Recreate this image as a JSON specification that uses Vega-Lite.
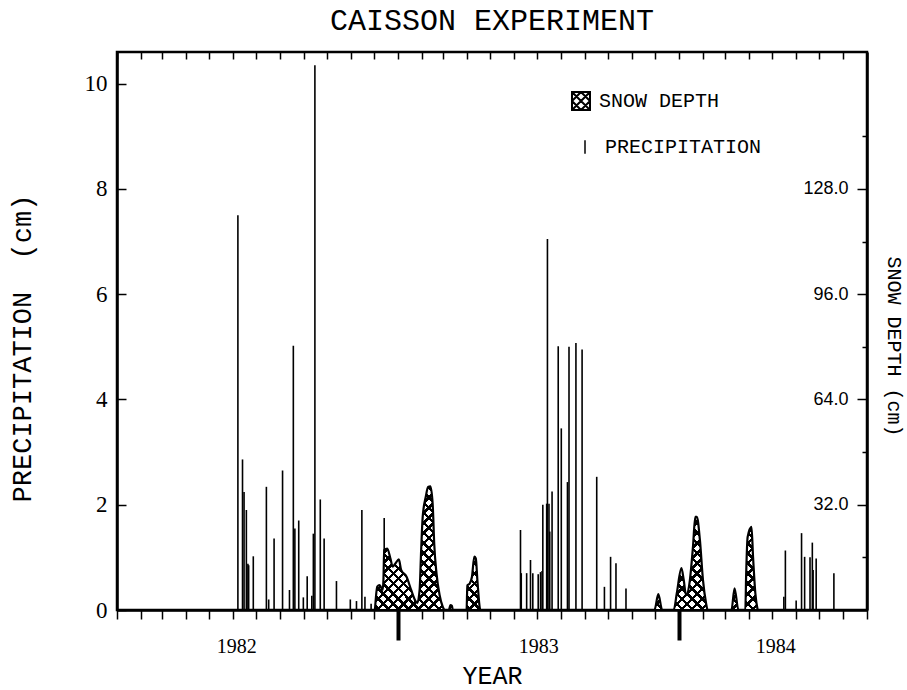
{
  "$schema": "https://vega.github.io/schema/vega-lite/v6.json",
  "width": 750,
  "height": 558,
  "autosize": {"type": "none"},
  "padding": {"left": 117, "top": 52, "right": 40, "bottom": 80},
  "background": "white",
  "title": {"text": "CAISSON EXPERIMENT", "font": "Liberation Mono", "fontSize": 30, "fontWeight": "normal", "color": "black", "anchor": "middle", "offset": -8, "baseline": "alphabetic"},
  "config": {
    "view": {"stroke": "black", "strokeWidth": 2.5},
    "axis": {"zindex": 1, "minExtent": 0, "domainColor": "black", "domainWidth": 2.5, "tickColor": "black", "labelColor": "black", "titleColor": "black", "grid": false, "labelOverlap": false, "labelFlush": false, "labelBound": false, "titleFontWeight": "normal", "labelFontWeight": "normal"},
    "legend": {"orient": "none", "title": null, "padding": 0, "offset": 0, "labelFont": "Liberation Mono", "labelFontSize": 20, "labelColor": "black", "labelLimit": 400, "symbolSize": 324, "symbolStrokeColor": "black", "symbolFillColor": "white"}
  },
  "datasets": {
    "precipitation": [
      {"date": "1982-06-07", "cm": 7.5},
      {"date": "1982-06-13", "cm": 2.86},
      {"date": "1982-06-15", "cm": 2.24},
      {"date": "1982-06-18", "cm": 1.9},
      {"date": "1982-06-20", "cm": 0.88},
      {"date": "1982-06-21", "cm": 0.85},
      {"date": "1982-06-27", "cm": 1.02},
      {"date": "1982-07-14", "cm": 2.34},
      {"date": "1982-07-17", "cm": 0.2},
      {"date": "1982-07-24", "cm": 1.36},
      {"date": "1982-08-04", "cm": 2.65},
      {"date": "1982-08-13", "cm": 0.38},
      {"date": "1982-08-18", "cm": 5.02},
      {"date": "1982-08-20", "cm": 1.55},
      {"date": "1982-08-25", "cm": 1.7},
      {"date": "1982-08-31", "cm": 0.24},
      {"date": "1982-09-05", "cm": 0.64},
      {"date": "1982-09-11", "cm": 0.27},
      {"date": "1982-09-13", "cm": 1.45},
      {"date": "1982-09-15", "cm": 10.35},
      {"date": "1982-09-22", "cm": 2.1},
      {"date": "1982-09-27", "cm": 1.36},
      {"date": "1982-10-13", "cm": 0.55},
      {"date": "1982-10-31", "cm": 0.2},
      {"date": "1982-11-08", "cm": 0.17},
      {"date": "1982-11-15", "cm": 1.9},
      {"date": "1982-11-19", "cm": 0.25},
      {"date": "1982-11-27", "cm": 0.12},
      {"date": "1982-12-14", "cm": 1.75},
      {"date": "1983-06-09", "cm": 1.52},
      {"date": "1983-06-10", "cm": 0.7},
      {"date": "1983-06-17", "cm": 0.7},
      {"date": "1983-06-22", "cm": 0.95},
      {"date": "1983-06-25", "cm": 0.7},
      {"date": "1983-07-02", "cm": 0.68},
      {"date": "1983-07-05", "cm": 0.72},
      {"date": "1983-07-07", "cm": 0.74},
      {"date": "1983-07-08", "cm": 2.0},
      {"date": "1983-07-13", "cm": 2.02},
      {"date": "1983-07-14", "cm": 7.05},
      {"date": "1983-07-16", "cm": 2.02},
      {"date": "1983-07-17", "cm": 1.49},
      {"date": "1983-07-20", "cm": 2.25},
      {"date": "1983-07-28", "cm": 5.01},
      {"date": "1983-08-01", "cm": 3.45},
      {"date": "1983-08-09", "cm": 2.43},
      {"date": "1983-08-11", "cm": 5.0},
      {"date": "1983-08-20", "cm": 5.07},
      {"date": "1983-08-28", "cm": 4.95},
      {"date": "1983-09-16", "cm": 2.53},
      {"date": "1983-09-26", "cm": 0.44},
      {"date": "1983-10-04", "cm": 1.01},
      {"date": "1983-10-11", "cm": 0.89},
      {"date": "1983-10-24", "cm": 0.41},
      {"date": "1984-05-16", "cm": 0.25},
      {"date": "1984-05-18", "cm": 1.13},
      {"date": "1984-06-01", "cm": 0.18},
      {"date": "1984-06-08", "cm": 1.46},
      {"date": "1984-06-12", "cm": 1.01},
      {"date": "1984-06-19", "cm": 1.0},
      {"date": "1984-06-22", "cm": 1.28},
      {"date": "1984-06-23", "cm": 0.76},
      {"date": "1984-06-27", "cm": 0.98},
      {"date": "1984-07-20", "cm": 0.7}
    ],
    "snow": [
      {"date": "1982-12-02", "snow": 0},
      {"date": "1982-12-05", "snow": 7.1},
      {"date": "1982-12-08", "snow": 7.6},
      {"date": "1982-12-12", "snow": 6.1},
      {"date": "1982-12-13", "snow": 9},
      {"date": "1982-12-14", "snow": 18.2},
      {"date": "1982-12-18", "snow": 18.7},
      {"date": "1982-12-22", "snow": 15.7},
      {"date": "1982-12-25", "snow": 13.2},
      {"date": "1982-12-29", "snow": 14.3},
      {"date": "1983-01-02", "snow": 15.4},
      {"date": "1983-01-05", "snow": 12.2},
      {"date": "1983-01-12", "snow": 10.1},
      {"date": "1983-01-18", "snow": 6.1},
      {"date": "1983-01-23", "snow": 3.0},
      {"date": "1983-01-26", "snow": 2.1},
      {"date": "1983-01-29", "snow": 6.1},
      {"date": "1983-01-31", "snow": 18.2},
      {"date": "1983-02-02", "snow": 28.3},
      {"date": "1983-02-06", "snow": 34.4},
      {"date": "1983-02-09", "snow": 37.4},
      {"date": "1983-02-12", "snow": 37.6},
      {"date": "1983-02-15", "snow": 32},
      {"date": "1983-02-17", "snow": 20},
      {"date": "1983-02-20", "snow": 11},
      {"date": "1983-02-24", "snow": 4.5},
      {"date": "1983-02-28", "snow": 1},
      {"date": "1983-03-03", "snow": 0},
      {"date": "1983-03-08", "snow": 0},
      {"date": "1983-03-10", "snow": 1.5},
      {"date": "1983-03-12", "snow": 1.3},
      {"date": "1983-03-13", "snow": 0},
      {"date": "1983-03-31", "snow": 0},
      {"date": "1983-04-01", "snow": 7.5},
      {"date": "1983-04-04", "snow": 8.0},
      {"date": "1983-04-07", "snow": 10.1},
      {"date": "1983-04-10", "snow": 16.2},
      {"date": "1983-04-12", "snow": 15.7},
      {"date": "1983-04-14", "snow": 9.1},
      {"date": "1983-04-18", "snow": 0},
      {"date": "1983-11-30", "snow": 0},
      {"date": "1983-12-05", "snow": 4.8},
      {"date": "1983-12-10", "snow": 0},
      {"date": "1983-12-25", "snow": 0},
      {"date": "1983-12-29", "snow": 5.1},
      {"date": "1984-01-04", "snow": 12.7},
      {"date": "1984-01-07", "snow": 9.1},
      {"date": "1984-01-10", "snow": 4.5},
      {"date": "1984-01-15", "snow": 9.1},
      {"date": "1984-01-19", "snow": 19.2},
      {"date": "1984-01-22", "snow": 28.3},
      {"date": "1984-01-24", "snow": 28.3},
      {"date": "1984-01-28", "snow": 21.3},
      {"date": "1984-02-01", "snow": 9.1},
      {"date": "1984-02-05", "snow": 2.1},
      {"date": "1984-02-07", "snow": 0},
      {"date": "1984-03-09", "snow": 0},
      {"date": "1984-03-13", "snow": 6.6},
      {"date": "1984-03-18", "snow": 0},
      {"date": "1984-03-27", "snow": 0},
      {"date": "1984-03-28", "snow": 10.1},
      {"date": "1984-03-30", "snow": 22.2},
      {"date": "1984-04-04", "snow": 25.3},
      {"date": "1984-04-06", "snow": 16.2},
      {"date": "1984-04-09", "snow": 5.1},
      {"date": "1984-04-12", "snow": 0}
    ]
  },
  "resolve": {"scale": {"y": "independent", "stroke": "independent"}, "axis": {"x": "independent", "y": "independent"}},
  "layer": [
    {
      "data": {"name": "precipitation"},
      "mark": {"type": "rule", "strokeWidth": 1.6},
      "encoding": {
        "x": {
          "field": "date", "type": "temporal",
          "scale": {"type": "utc", "nice": false, "domain": [{"year": 1982, "month": 1, "date": 1, "utc": true}, {"year": 1984, "month": 9, "date": 1, "utc": true}]},
          "axis": {
            "orient": "bottom", "zindex": 1,
            "values": [
              {"year": 1982, "month": 1, "date": 1, "utc": true}, {"year": 1982, "month": 2, "date": 1, "utc": true}, {"year": 1982, "month": 3, "date": 1, "utc": true}, {"year": 1982, "month": 4, "date": 1, "utc": true},
              {"year": 1982, "month": 5, "date": 1, "utc": true}, {"year": 1982, "month": 6, "date": 1, "utc": true}, {"year": 1982, "month": 7, "date": 1, "utc": true}, {"year": 1982, "month": 8, "date": 1, "utc": true},
              {"year": 1982, "month": 9, "date": 1, "utc": true}, {"year": 1982, "month": 10, "date": 1, "utc": true}, {"year": 1982, "month": 11, "date": 1, "utc": true}, {"year": 1982, "month": 12, "date": 1, "utc": true},
              {"year": 1983, "month": 1, "date": 1, "utc": true}, {"year": 1983, "month": 2, "date": 1, "utc": true}, {"year": 1983, "month": 3, "date": 1, "utc": true}, {"year": 1983, "month": 4, "date": 1, "utc": true},
              {"year": 1983, "month": 5, "date": 1, "utc": true}, {"year": 1983, "month": 6, "date": 1, "utc": true}, {"year": 1983, "month": 7, "date": 1, "utc": true}, {"year": 1983, "month": 8, "date": 1, "utc": true},
              {"year": 1983, "month": 9, "date": 1, "utc": true}, {"year": 1983, "month": 10, "date": 1, "utc": true}, {"year": 1983, "month": 11, "date": 1, "utc": true}, {"year": 1983, "month": 12, "date": 1, "utc": true},
              {"year": 1984, "month": 1, "date": 1, "utc": true}, {"year": 1984, "month": 2, "date": 1, "utc": true}, {"year": 1984, "month": 3, "date": 1, "utc": true}, {"year": 1984, "month": 4, "date": 1, "utc": true},
              {"year": 1984, "month": 5, "date": 1, "utc": true}, {"year": 1984, "month": 6, "date": 1, "utc": true}, {"year": 1984, "month": 7, "date": 1, "utc": true}, {"year": 1984, "month": 8, "date": 1, "utc": true},
              {"year": 1984, "month": 9, "date": 1, "utc": true},
              {"year": 1982, "month": 6, "date": 5, "utc": true}, {"year": 1983, "month": 7, "date": 2, "utc": true}, {"year": 1984, "month": 5, "date": 5, "utc": true}
            ],
            "labelExpr": "utcdate(datum.value) == 1 ? '' : utcFormat(datum.value, '%Y')",
            "labelFont": "Liberation Serif", "labelFontSize": 20, "labelPadding": 17, "labelBaseline": "top",
            "tickSize": {"condition": {"test": "utcmonth(datum.value) == 0 && utcdate(datum.value) == 1 && utcyear(datum.value) > 1982", "value": 30}, "value": 9},
            "tickWidth": {"condition": {"test": "utcmonth(datum.value) == 0 && utcdate(datum.value) == 1 && utcyear(datum.value) > 1982", "value": 4}, "value": 1.5},
            "tickOpacity": {"condition": {"test": "utcdate(datum.value) != 1", "value": 0}, "value": 1},
            "grid": true, "gridColor": "black", "gridWidth": 1.5, "gridDash": [7, 1000],
            "gridOpacity": {"condition": {"test": "utcdate(datum.value) != 1", "value": 0}, "value": 1},
            "title": "YEAR", "titleFont": "Liberation Mono", "titleFontSize": 25, "titleY": 73, "titleBaseline": "alphabetic"
          }
        },
        "y": {
          "field": "cm", "type": "quantitative",
          "scale": {"domain": [0, 10.6], "nice": false},
          "axis": {
            "orient": "left", "zindex": 1, "values": [0, 2, 4, 6, 8, 10],
            "tickSize": {"condition": {"test": "datum.value >= 0", "value": -9}, "value": -9},
            "tickWidth": 1.5,
            "labelPadding": 19, "labelFont": "Liberation Serif", "labelFontSize": 23,
            "title": "PRECIPITATION \u00a0(cm)", "titleFont": "Liberation Mono", "titleFontSize": 27,
            "titleX": -95, "titleY": 296, "titleAngle": -90, "titleAlign": "center", "titleBaseline": "middle"
          }
        },
        "y2": {"datum": 0},
        "stroke": {
          "datum": "PRECIPITATION", "type": "nominal",
          "scale": {"domain": ["PRECIPITATION"], "range": ["black"]},
          "legend": {"legendX": 458, "legendY": 85, "labelOffset": 10, "symbolType": "M0,-0.75L0,0.75", "symbolStrokeWidth": 1.5}
        }
      }
    },
    {
      "data": {"name": "snow"},
      "mark": {
        "type": "area", "interpolate": "monotone", "opacity": 1,
        "fill": {
          "gradient": "linear", "x1": 0, "y1": 0, "x2": 1.198, "y2": 0.3872,
          "stops": [
            {"offset": 0, "color": "#fff"},
            {"offset": 0.005, "color": "#fff"}, {"offset": 0.005, "color": "#000"}, {"offset": 0.012, "color": "#000"}, {"offset": 0.012, "color": "#fff"},
            {"offset": 0.025, "color": "#fff"}, {"offset": 0.025, "color": "#000"}, {"offset": 0.032, "color": "#000"}, {"offset": 0.032, "color": "#fff"},
            {"offset": 0.045, "color": "#fff"}, {"offset": 0.045, "color": "#000"}, {"offset": 0.052, "color": "#000"}, {"offset": 0.052, "color": "#fff"},
            {"offset": 0.065, "color": "#fff"}, {"offset": 0.065, "color": "#000"}, {"offset": 0.072, "color": "#000"}, {"offset": 0.072, "color": "#fff"},
            {"offset": 0.085, "color": "#fff"}, {"offset": 0.085, "color": "#000"}, {"offset": 0.092, "color": "#000"}, {"offset": 0.092, "color": "#fff"},
            {"offset": 0.105, "color": "#fff"}, {"offset": 0.105, "color": "#000"}, {"offset": 0.112, "color": "#000"}, {"offset": 0.112, "color": "#fff"},
            {"offset": 0.125, "color": "#fff"}, {"offset": 0.125, "color": "#000"}, {"offset": 0.132, "color": "#000"}, {"offset": 0.132, "color": "#fff"},
            {"offset": 0.145, "color": "#fff"}, {"offset": 0.145, "color": "#000"}, {"offset": 0.152, "color": "#000"}, {"offset": 0.152, "color": "#fff"},
            {"offset": 0.165, "color": "#fff"}, {"offset": 0.165, "color": "#000"}, {"offset": 0.172, "color": "#000"}, {"offset": 0.172, "color": "#fff"},
            {"offset": 0.185, "color": "#fff"}, {"offset": 0.185, "color": "#000"}, {"offset": 0.192, "color": "#000"}, {"offset": 0.192, "color": "#fff"},
            {"offset": 0.205, "color": "#fff"}, {"offset": 0.205, "color": "#000"}, {"offset": 0.212, "color": "#000"}, {"offset": 0.212, "color": "#fff"},
            {"offset": 0.225, "color": "#fff"}, {"offset": 0.225, "color": "#000"}, {"offset": 0.232, "color": "#000"}, {"offset": 0.232, "color": "#fff"},
            {"offset": 0.245, "color": "#fff"}, {"offset": 0.245, "color": "#000"}, {"offset": 0.252, "color": "#000"}, {"offset": 0.252, "color": "#fff"},
            {"offset": 0.265, "color": "#fff"}, {"offset": 0.265, "color": "#000"}, {"offset": 0.272, "color": "#000"}, {"offset": 0.272, "color": "#fff"},
            {"offset": 0.285, "color": "#fff"}, {"offset": 0.285, "color": "#000"}, {"offset": 0.292, "color": "#000"}, {"offset": 0.292, "color": "#fff"},
            {"offset": 0.305, "color": "#fff"}, {"offset": 0.305, "color": "#000"}, {"offset": 0.312, "color": "#000"}, {"offset": 0.312, "color": "#fff"},
            {"offset": 0.325, "color": "#fff"}, {"offset": 0.325, "color": "#000"}, {"offset": 0.332, "color": "#000"}, {"offset": 0.332, "color": "#fff"},
            {"offset": 0.345, "color": "#fff"}, {"offset": 0.345, "color": "#000"}, {"offset": 0.352, "color": "#000"}, {"offset": 0.352, "color": "#fff"},
            {"offset": 0.365, "color": "#fff"}, {"offset": 0.365, "color": "#000"}, {"offset": 0.372, "color": "#000"}, {"offset": 0.372, "color": "#fff"},
            {"offset": 0.385, "color": "#fff"}, {"offset": 0.385, "color": "#000"}, {"offset": 0.392, "color": "#000"}, {"offset": 0.392, "color": "#fff"},
            {"offset": 0.405, "color": "#fff"}, {"offset": 0.405, "color": "#000"}, {"offset": 0.412, "color": "#000"}, {"offset": 0.412, "color": "#fff"},
            {"offset": 0.425, "color": "#fff"}, {"offset": 0.425, "color": "#000"}, {"offset": 0.432, "color": "#000"}, {"offset": 0.432, "color": "#fff"},
            {"offset": 0.445, "color": "#fff"}, {"offset": 0.445, "color": "#000"}, {"offset": 0.452, "color": "#000"}, {"offset": 0.452, "color": "#fff"},
            {"offset": 0.465, "color": "#fff"}, {"offset": 0.465, "color": "#000"}, {"offset": 0.472, "color": "#000"}, {"offset": 0.472, "color": "#fff"},
            {"offset": 0.485, "color": "#fff"}, {"offset": 0.485, "color": "#000"}, {"offset": 0.492, "color": "#000"}, {"offset": 0.492, "color": "#fff"},
            {"offset": 0.505, "color": "#fff"}, {"offset": 0.505, "color": "#000"}, {"offset": 0.512, "color": "#000"}, {"offset": 0.512, "color": "#fff"},
            {"offset": 0.525, "color": "#fff"}, {"offset": 0.525, "color": "#000"}, {"offset": 0.532, "color": "#000"}, {"offset": 0.532, "color": "#fff"},
            {"offset": 0.545, "color": "#fff"}, {"offset": 0.545, "color": "#000"}, {"offset": 0.552, "color": "#000"}, {"offset": 0.552, "color": "#fff"},
            {"offset": 0.565, "color": "#fff"}, {"offset": 0.565, "color": "#000"}, {"offset": 0.572, "color": "#000"}, {"offset": 0.572, "color": "#fff"},
            {"offset": 0.585, "color": "#fff"}, {"offset": 0.585, "color": "#000"}, {"offset": 0.592, "color": "#000"}, {"offset": 0.592, "color": "#fff"},
            {"offset": 0.605, "color": "#fff"}, {"offset": 0.605, "color": "#000"}, {"offset": 0.612, "color": "#000"}, {"offset": 0.612, "color": "#fff"},
            {"offset": 0.625, "color": "#fff"}, {"offset": 0.625, "color": "#000"}, {"offset": 0.632, "color": "#000"}, {"offset": 0.632, "color": "#fff"},
            {"offset": 0.645, "color": "#fff"}, {"offset": 0.645, "color": "#000"}, {"offset": 0.652, "color": "#000"}, {"offset": 0.652, "color": "#fff"},
            {"offset": 0.665, "color": "#fff"}, {"offset": 0.665, "color": "#000"}, {"offset": 0.672, "color": "#000"}, {"offset": 0.672, "color": "#fff"},
            {"offset": 0.685, "color": "#fff"}, {"offset": 0.685, "color": "#000"}, {"offset": 0.692, "color": "#000"}, {"offset": 0.692, "color": "#fff"},
            {"offset": 0.705, "color": "#fff"}, {"offset": 0.705, "color": "#000"}, {"offset": 0.712, "color": "#000"}, {"offset": 0.712, "color": "#fff"},
            {"offset": 0.725, "color": "#fff"}, {"offset": 0.725, "color": "#000"}, {"offset": 0.732, "color": "#000"}, {"offset": 0.732, "color": "#fff"},
            {"offset": 0.745, "color": "#fff"}, {"offset": 0.745, "color": "#000"}, {"offset": 0.752, "color": "#000"}, {"offset": 0.752, "color": "#fff"},
            {"offset": 0.765, "color": "#fff"}, {"offset": 0.765, "color": "#000"}, {"offset": 0.772, "color": "#000"}, {"offset": 0.772, "color": "#fff"},
            {"offset": 0.785, "color": "#fff"}, {"offset": 0.785, "color": "#000"}, {"offset": 0.792, "color": "#000"}, {"offset": 0.792, "color": "#fff"},
            {"offset": 0.805, "color": "#fff"}, {"offset": 0.805, "color": "#000"}, {"offset": 0.812, "color": "#000"}, {"offset": 0.812, "color": "#fff"},
            {"offset": 0.825, "color": "#fff"}, {"offset": 0.825, "color": "#000"}, {"offset": 0.832, "color": "#000"}, {"offset": 0.832, "color": "#fff"},
            {"offset": 0.845, "color": "#fff"}, {"offset": 0.845, "color": "#000"}, {"offset": 0.852, "color": "#000"}, {"offset": 0.852, "color": "#fff"},
            {"offset": 0.865, "color": "#fff"}, {"offset": 0.865, "color": "#000"}, {"offset": 0.872, "color": "#000"}, {"offset": 0.872, "color": "#fff"},
            {"offset": 0.885, "color": "#fff"}, {"offset": 0.885, "color": "#000"}, {"offset": 0.892, "color": "#000"}, {"offset": 0.892, "color": "#fff"},
            {"offset": 0.905, "color": "#fff"}, {"offset": 0.905, "color": "#000"}, {"offset": 0.912, "color": "#000"}, {"offset": 0.912, "color": "#fff"},
            {"offset": 0.925, "color": "#fff"}, {"offset": 0.925, "color": "#000"}, {"offset": 0.932, "color": "#000"}, {"offset": 0.932, "color": "#fff"},
            {"offset": 0.945, "color": "#fff"}, {"offset": 0.945, "color": "#000"}, {"offset": 0.952, "color": "#000"}, {"offset": 0.952, "color": "#fff"},
            {"offset": 0.965, "color": "#fff"}, {"offset": 0.965, "color": "#000"}, {"offset": 0.972, "color": "#000"}, {"offset": 0.972, "color": "#fff"},
            {"offset": 0.985, "color": "#fff"}, {"offset": 0.985, "color": "#000"}, {"offset": 0.992, "color": "#000"}, {"offset": 0.992, "color": "#fff"},
            {"offset": 1, "color": "#fff"}
          ]
        }
      },
      "encoding": {
        "x": {
          "field": "date", "type": "temporal",
          "scale": {"type": "utc", "nice": false, "domain": [{"year": 1982, "month": 1, "date": 1, "utc": true}, {"year": 1984, "month": 9, "date": 1, "utc": true}]},
          "axis": null
        },
        "y": {"field": "snow", "type": "quantitative", "scale": {"domain": [0, 169.6], "nice": false}, "axis": null}
      }
    },
    {
      "data": {"name": "snow"},
      "mark": {
        "type": "area", "interpolate": "monotone", "opacity": 1,
        "fill": {
          "gradient": "linear", "x1": 0, "y1": 1, "x2": 1.198, "y2": 0.6128,
          "stops": [
            {"offset": 0, "color": "transparent"},
            {"offset": 0.005, "color": "transparent"}, {"offset": 0.005, "color": "#000"}, {"offset": 0.012, "color": "#000"}, {"offset": 0.012, "color": "transparent"},
            {"offset": 0.025, "color": "transparent"}, {"offset": 0.025, "color": "#000"}, {"offset": 0.032, "color": "#000"}, {"offset": 0.032, "color": "transparent"},
            {"offset": 0.045, "color": "transparent"}, {"offset": 0.045, "color": "#000"}, {"offset": 0.052, "color": "#000"}, {"offset": 0.052, "color": "transparent"},
            {"offset": 0.065, "color": "transparent"}, {"offset": 0.065, "color": "#000"}, {"offset": 0.072, "color": "#000"}, {"offset": 0.072, "color": "transparent"},
            {"offset": 0.085, "color": "transparent"}, {"offset": 0.085, "color": "#000"}, {"offset": 0.092, "color": "#000"}, {"offset": 0.092, "color": "transparent"},
            {"offset": 0.105, "color": "transparent"}, {"offset": 0.105, "color": "#000"}, {"offset": 0.112, "color": "#000"}, {"offset": 0.112, "color": "transparent"},
            {"offset": 0.125, "color": "transparent"}, {"offset": 0.125, "color": "#000"}, {"offset": 0.132, "color": "#000"}, {"offset": 0.132, "color": "transparent"},
            {"offset": 0.145, "color": "transparent"}, {"offset": 0.145, "color": "#000"}, {"offset": 0.152, "color": "#000"}, {"offset": 0.152, "color": "transparent"},
            {"offset": 0.165, "color": "transparent"}, {"offset": 0.165, "color": "#000"}, {"offset": 0.172, "color": "#000"}, {"offset": 0.172, "color": "transparent"},
            {"offset": 0.185, "color": "transparent"}, {"offset": 0.185, "color": "#000"}, {"offset": 0.192, "color": "#000"}, {"offset": 0.192, "color": "transparent"},
            {"offset": 0.205, "color": "transparent"}, {"offset": 0.205, "color": "#000"}, {"offset": 0.212, "color": "#000"}, {"offset": 0.212, "color": "transparent"},
            {"offset": 0.225, "color": "transparent"}, {"offset": 0.225, "color": "#000"}, {"offset": 0.232, "color": "#000"}, {"offset": 0.232, "color": "transparent"},
            {"offset": 0.245, "color": "transparent"}, {"offset": 0.245, "color": "#000"}, {"offset": 0.252, "color": "#000"}, {"offset": 0.252, "color": "transparent"},
            {"offset": 0.265, "color": "transparent"}, {"offset": 0.265, "color": "#000"}, {"offset": 0.272, "color": "#000"}, {"offset": 0.272, "color": "transparent"},
            {"offset": 0.285, "color": "transparent"}, {"offset": 0.285, "color": "#000"}, {"offset": 0.292, "color": "#000"}, {"offset": 0.292, "color": "transparent"},
            {"offset": 0.305, "color": "transparent"}, {"offset": 0.305, "color": "#000"}, {"offset": 0.312, "color": "#000"}, {"offset": 0.312, "color": "transparent"},
            {"offset": 0.325, "color": "transparent"}, {"offset": 0.325, "color": "#000"}, {"offset": 0.332, "color": "#000"}, {"offset": 0.332, "color": "transparent"},
            {"offset": 0.345, "color": "transparent"}, {"offset": 0.345, "color": "#000"}, {"offset": 0.352, "color": "#000"}, {"offset": 0.352, "color": "transparent"},
            {"offset": 0.365, "color": "transparent"}, {"offset": 0.365, "color": "#000"}, {"offset": 0.372, "color": "#000"}, {"offset": 0.372, "color": "transparent"},
            {"offset": 0.385, "color": "transparent"}, {"offset": 0.385, "color": "#000"}, {"offset": 0.392, "color": "#000"}, {"offset": 0.392, "color": "transparent"},
            {"offset": 0.405, "color": "transparent"}, {"offset": 0.405, "color": "#000"}, {"offset": 0.412, "color": "#000"}, {"offset": 0.412, "color": "transparent"},
            {"offset": 0.425, "color": "transparent"}, {"offset": 0.425, "color": "#000"}, {"offset": 0.432, "color": "#000"}, {"offset": 0.432, "color": "transparent"},
            {"offset": 0.445, "color": "transparent"}, {"offset": 0.445, "color": "#000"}, {"offset": 0.452, "color": "#000"}, {"offset": 0.452, "color": "transparent"},
            {"offset": 0.465, "color": "transparent"}, {"offset": 0.465, "color": "#000"}, {"offset": 0.472, "color": "#000"}, {"offset": 0.472, "color": "transparent"},
            {"offset": 0.485, "color": "transparent"}, {"offset": 0.485, "color": "#000"}, {"offset": 0.492, "color": "#000"}, {"offset": 0.492, "color": "transparent"},
            {"offset": 0.505, "color": "transparent"}, {"offset": 0.505, "color": "#000"}, {"offset": 0.512, "color": "#000"}, {"offset": 0.512, "color": "transparent"},
            {"offset": 0.525, "color": "transparent"}, {"offset": 0.525, "color": "#000"}, {"offset": 0.532, "color": "#000"}, {"offset": 0.532, "color": "transparent"},
            {"offset": 0.545, "color": "transparent"}, {"offset": 0.545, "color": "#000"}, {"offset": 0.552, "color": "#000"}, {"offset": 0.552, "color": "transparent"},
            {"offset": 0.565, "color": "transparent"}, {"offset": 0.565, "color": "#000"}, {"offset": 0.572, "color": "#000"}, {"offset": 0.572, "color": "transparent"},
            {"offset": 0.585, "color": "transparent"}, {"offset": 0.585, "color": "#000"}, {"offset": 0.592, "color": "#000"}, {"offset": 0.592, "color": "transparent"},
            {"offset": 0.605, "color": "transparent"}, {"offset": 0.605, "color": "#000"}, {"offset": 0.612, "color": "#000"}, {"offset": 0.612, "color": "transparent"},
            {"offset": 0.625, "color": "transparent"}, {"offset": 0.625, "color": "#000"}, {"offset": 0.632, "color": "#000"}, {"offset": 0.632, "color": "transparent"},
            {"offset": 0.645, "color": "transparent"}, {"offset": 0.645, "color": "#000"}, {"offset": 0.652, "color": "#000"}, {"offset": 0.652, "color": "transparent"},
            {"offset": 0.665, "color": "transparent"}, {"offset": 0.665, "color": "#000"}, {"offset": 0.672, "color": "#000"}, {"offset": 0.672, "color": "transparent"},
            {"offset": 0.685, "color": "transparent"}, {"offset": 0.685, "color": "#000"}, {"offset": 0.692, "color": "#000"}, {"offset": 0.692, "color": "transparent"},
            {"offset": 0.705, "color": "transparent"}, {"offset": 0.705, "color": "#000"}, {"offset": 0.712, "color": "#000"}, {"offset": 0.712, "color": "transparent"},
            {"offset": 0.725, "color": "transparent"}, {"offset": 0.725, "color": "#000"}, {"offset": 0.732, "color": "#000"}, {"offset": 0.732, "color": "transparent"},
            {"offset": 0.745, "color": "transparent"}, {"offset": 0.745, "color": "#000"}, {"offset": 0.752, "color": "#000"}, {"offset": 0.752, "color": "transparent"},
            {"offset": 0.765, "color": "transparent"}, {"offset": 0.765, "color": "#000"}, {"offset": 0.772, "color": "#000"}, {"offset": 0.772, "color": "transparent"},
            {"offset": 0.785, "color": "transparent"}, {"offset": 0.785, "color": "#000"}, {"offset": 0.792, "color": "#000"}, {"offset": 0.792, "color": "transparent"},
            {"offset": 0.805, "color": "transparent"}, {"offset": 0.805, "color": "#000"}, {"offset": 0.812, "color": "#000"}, {"offset": 0.812, "color": "transparent"},
            {"offset": 0.825, "color": "transparent"}, {"offset": 0.825, "color": "#000"}, {"offset": 0.832, "color": "#000"}, {"offset": 0.832, "color": "transparent"},
            {"offset": 0.845, "color": "transparent"}, {"offset": 0.845, "color": "#000"}, {"offset": 0.852, "color": "#000"}, {"offset": 0.852, "color": "transparent"},
            {"offset": 0.865, "color": "transparent"}, {"offset": 0.865, "color": "#000"}, {"offset": 0.872, "color": "#000"}, {"offset": 0.872, "color": "transparent"},
            {"offset": 0.885, "color": "transparent"}, {"offset": 0.885, "color": "#000"}, {"offset": 0.892, "color": "#000"}, {"offset": 0.892, "color": "transparent"},
            {"offset": 0.905, "color": "transparent"}, {"offset": 0.905, "color": "#000"}, {"offset": 0.912, "color": "#000"}, {"offset": 0.912, "color": "transparent"},
            {"offset": 0.925, "color": "transparent"}, {"offset": 0.925, "color": "#000"}, {"offset": 0.932, "color": "#000"}, {"offset": 0.932, "color": "transparent"},
            {"offset": 0.945, "color": "transparent"}, {"offset": 0.945, "color": "#000"}, {"offset": 0.952, "color": "#000"}, {"offset": 0.952, "color": "transparent"},
            {"offset": 0.965, "color": "transparent"}, {"offset": 0.965, "color": "#000"}, {"offset": 0.972, "color": "#000"}, {"offset": 0.972, "color": "transparent"},
            {"offset": 0.985, "color": "transparent"}, {"offset": 0.985, "color": "#000"}, {"offset": 0.992, "color": "#000"}, {"offset": 0.992, "color": "transparent"},
            {"offset": 1, "color": "transparent"}
          ]
        }
      },
      "encoding": {
        "x": {
          "field": "date", "type": "temporal",
          "scale": {"type": "utc", "nice": false, "domain": [{"year": 1982, "month": 1, "date": 1, "utc": true}, {"year": 1984, "month": 9, "date": 1, "utc": true}]},
          "axis": null
        },
        "y": {"field": "snow", "type": "quantitative", "scale": {"domain": [0, 169.6], "nice": false}, "axis": null}
      }
    },
    {
      "data": {"name": "snow"},
      "mark": {"type": "area", "interpolate": "monotone", "opacity": 1, "fill": "transparent", "strokeWidth": 2.2, "strokeJoin": "round"},
      "encoding": {
        "x": {
          "field": "date", "type": "temporal",
          "scale": {"type": "utc", "nice": false, "domain": [{"year": 1982, "month": 1, "date": 1, "utc": true}, {"year": 1984, "month": 9, "date": 1, "utc": true}]},
          "axis": null
        },
        "y": {
          "field": "snow", "type": "quantitative",
          "scale": {"domain": [0, 169.6], "nice": false},
          "axis": {
            "orient": "right", "zindex": 1, "values": [16, 32, 48, 64, 80, 96, 112, 128, 144],
            "tickSize": {"condition": {"test": "datum.value % 32 == 0", "value": -10}, "value": -5},
            "tickWidth": 1.5,
            "labelExpr": "datum.value % 32 == 0 ? format(datum.value, '.1f') : ''",
            "labelAlign": "right", "labelPadding": -9, "labelFont": "Liberation Sans", "labelFontSize": 18,
            "title": "SNOW DEPTH (cm)", "titleFont": "Liberation Mono", "titleFontSize": 20,
            "titleX": 26, "titleY": 294, "titleAngle": 90, "titleAlign": "center", "titleBaseline": "middle"
          }
        },
        "stroke": {
          "datum": "SNOW DEPTH", "type": "nominal",
          "scale": {"domain": ["SNOW DEPTH"], "range": ["black"]},
          "legend": {"legendX": 454, "legendY": 39, "labelOffset": 8, "symbolType": "M-1,-1L1,-1L1,1L-1,1Z M-1,0L0,-1 M-1,1L1,-1 M0,1L1,0 M-1,0L0,1 M-1,-1L1,1 M0,-1L1,0", "symbolStrokeWidth": 2}
        }
      }
    }
  ]
}
